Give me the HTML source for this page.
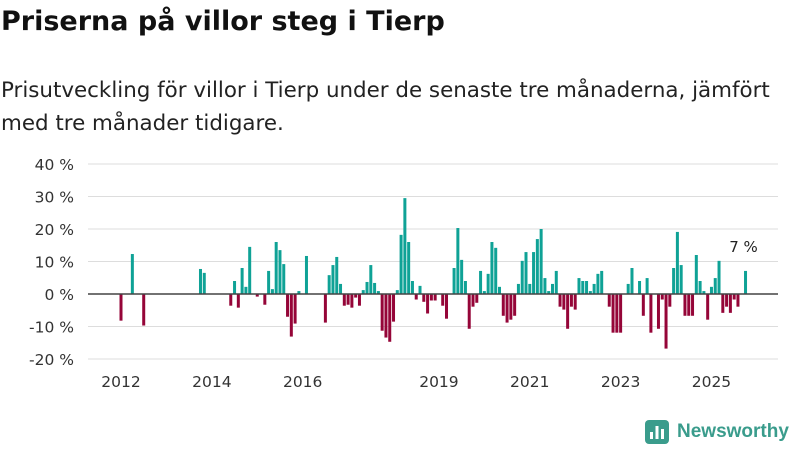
<!DOCTYPE html>
<html><head><meta charset="utf-8"><style>
body{margin:0;width:800px;height:450px;background:#fff;font-family:"DejaVu Sans","Liberation Sans",sans-serif;color:#111;overflow:hidden;position:relative}
#title{position:absolute;left:1px;top:6px;font-size:27px;font-weight:bold;margin:0;white-space:nowrap}
#sub{position:absolute;left:1px;top:74px;font-size:21.4px;line-height:33px;color:#222;width:795px;white-space:nowrap}
#logo{position:absolute;left:645px;top:420px;display:flex;align-items:center;color:#3a9c8c;font-size:19px;font-weight:bold;font-family:"Liberation Sans",sans-serif}
</style></head><body>
<h1 id="title">Priserna på villor steg i Tierp</h1>
<div id="sub">Prisutveckling för villor i Tierp under de senaste tre månaderna, jämfört<br>med tre månader tidigare.</div>
<svg id="chart" width="800" height="450" style="position:absolute;left:0;top:0"></svg>
<div id="logo"><svg width="24" height="24" viewBox="0 0 24 24" style="margin-right:8px"><rect x="0" y="0" width="24" height="24" rx="4" fill="#3a9c8c"/><rect x="5" y="12" width="3" height="7" fill="#fff"/><rect x="10.5" y="6" width="3" height="13" fill="#fff"/><rect x="16" y="9" width="3" height="10" fill="#fff"/></svg>Newsworthy</div>
<script>
const months=[0,3,6,21,22,29,30,31,32,33,34,36,38,39,40,41,42,43,44,45,46,47,49,54,55,56,57,58,59,60,61,62,63,64,65,66,67,68,69,70,71,72,73,74,75,76,77,78,79,80,81,82,83,85,86,88,89,90,91,92,93,94,95,96,97,98,99,100,101,102,103,104,105,106,107,108,109,110,111,112,113,114,115,116,117,118,119,120,121,122,123,124,125,126,127,129,130,131,132,134,135,137,138,139,140,142,143,144,145,146,147,148,149,150,151,152,153,154,155,156,157,158,159,160,161,162,163,165];
const values=[-8.2,12.3,-9.7,7.7,6.5,-3.6,4,-4.2,8,2.2,14.5,-0.8,-3.3,7.1,1.5,16,13.5,9.2,-7,-13.1,-9.1,0.9,11.7,-8.8,5.8,8.9,11.4,3.1,-3.6,-3.3,-4.2,-1.1,-3.6,1.2,3.7,8.9,3.4,0.9,-11.3,-13.4,-14.7,-8.5,1.2,18.2,29.5,16,4,-1.7,2.5,-2.4,-6,-2,-2,-3.6,-7.6,8,20.3,10.5,4,-10.7,-3.9,-2.7,7.1,0.9,6.2,16,14.2,2.2,-6.7,-8.8,-7.9,-6.7,3.1,10.2,12.9,3.1,12.9,16.9,20,4.9,0.9,3.1,7.1,-3.9,-4.8,-10.7,-3.9,-4.8,4.9,4,4,0.9,3.1,6.2,7.1,-3.9,-11.9,-11.9,-11.9,3.1,8,4,-6.7,4.9,-11.9,-10.7,-1.7,-16.8,-3.9,8,19.1,8.9,-6.7,-6.7,-6.7,12,4,0.9,-7.9,2.2,4.9,10.2,-5.8,-3.9,-5.8,-1.7,-3.9,7.1];
const yTicks=[40,30,20,10,0,-10,-20];
const xTickLabels=["2012","2014","2016","2019","2021","2023","2025"];
const xTickMonths=[0,24,48,84,108,132,156];
const lastLabel="7 %";
const NS="http://www.w3.org/2000/svg";
const svg=document.getElementById('chart');
const y=v=>294-v*3.25;
const x=m=>121+m*3.785;
function mk(t,a){const e=document.createElementNS(NS,t);for(const k in a)e.setAttribute(k,a[k]);svg.appendChild(e);return e;}
yTicks.forEach(t=>{
  const g=mk('line',{x1:88,x2:778,y1:y(t),y2:y(t),stroke:'#ddd','stroke-width':1});
  
  
  const l=mk('text',{x:74,y:y(t)+6,'text-anchor':'end','font-size':15.5,fill:'#333'});
  l.textContent=t+' %';
  
  
});
xTickMonths.forEach((m,i)=>{
  const l=mk('text',{x:x(m),y:387,'text-anchor':'middle','font-size':15.5,fill:'#333'});
  l.textContent=xTickLabels[i];
  
  
});
months.forEach((m,i)=>{
  const v=values[i];
  const b=mk('rect',{x:x(m)-1.5,width:3,y:Math.min(y(v),y(0)),height:Math.abs(y(v)-y(0)),fill:v>=0?'#0fa296':'#950538'});
  
  
});
const z=mk('line',{x1:88,x2:778,y1:y(0),y2:y(0),stroke:'#444','stroke-width':1.5});


const li=months.length-1;
const lab=mk('text',{x:x(months[li])-2,y:y(values[li])-19,'text-anchor':'middle','font-size':15,fill:'#222'});
lab.textContent=lastLabel;


</script>
</body></html>
